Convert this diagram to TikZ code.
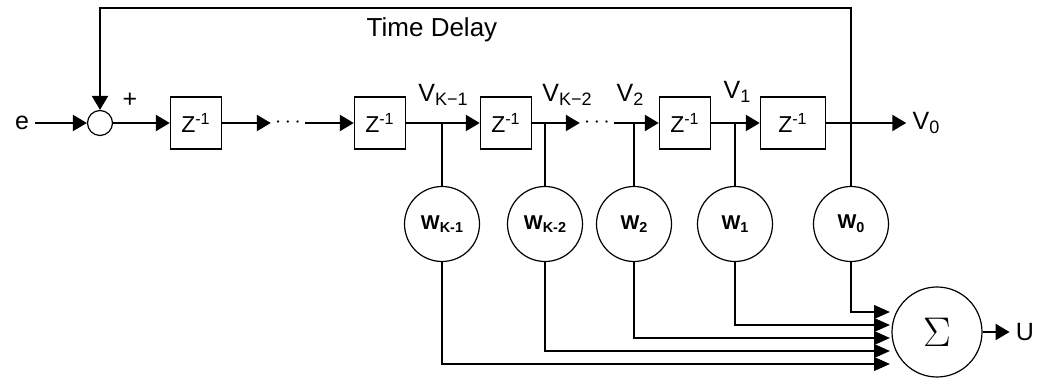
\documentclass[tikz,border=0pt]{standalone}
\usepackage{fontspec}
\setmainfont{Liberation Sans}
\usetikzlibrary{positioning,calc,arrows.meta}

\newcommand{\lo}[1]{\raisebox{-0.35ex}{\scalebox{0.72}{#1}}}

\begin{document}
\begin{tikzpicture}[
		x=0.5pt, y=-0.5pt,
		delay/.style={draw, line width=0.7pt, minimum width=25.5pt, minimum height=26pt, inner sep=0pt, font=\fontsize{11.5}{13}\selectfont},
		weight/.style={draw, circle, line width=0.6pt, minimum size=37.5pt, inner sep=0pt, font=\bfseries\fontsize{10}{12}\selectfont},
		adder/.style={draw, circle, line width=0.6pt, minimum size=12.5pt, inner sep=0pt},
		summer/.style={draw, circle, line width=0.6pt, minimum size=45pt, inner sep=0pt, font=\fontsize{21}{24}\selectfont},
		label/.style={font=\fontsize{12.5}{14}\selectfont, inner sep=3pt},
		dots/.style={font=\fontsize{11}{13}\selectfont, inner sep=2pt},
		wire/.style={line width=1.1pt},
		arr/.style={wire, -{Triangle[length=7pt, width=8pt]}},
		bus/.style={wire, -{Triangle[length=8pt, width=6.8pt]}}
		]
		\useasboundingbox (0,0) rectangle (1039,378);
		
		% -------------------------------------------------
		% Delay line
		% -------------------------------------------------
		\node[label] (e) at (22,123) {e};
		\node[adder] (add) at (100,123) {};
		\node[label] (plus) at (130,100) {+};
		\node[delay] (z1) at (196,123) {Z\textsuperscript{-1}};
		\node[dots] (dots1) at (288,123) {$\cdots$};
		\node[delay] (z2) at (380,123) {Z\textsuperscript{-1}};
		\node[delay] (z3) at (506,123) {Z\textsuperscript{-1}};
		\node[dots] (dots2) at (597,123) {$\cdots$};
		\node[delay] (z4) at (685,123) {Z\textsuperscript{-1}};
		\node[delay, minimum width=32.5pt] (z5) at (793,123) {Z\textsuperscript{-1}};
		\node[label] (lv0) at (926,123) {V\lo{0}};
		\node[label, font=\fontsize{13}{15}\selectfont] (td) at (432,30) {Time Delay};
		
		% tap labels
		\node[label] (lvk1) at (443,95) {V\lo{K−1}};
		\node[label] (lvk2) at (567,95) {V\lo{K−2}};
		\node[label] (lv2) at (630,95) {V\lo{2}};
		\node[label] (lv1) at (737,92) {V\lo{1}};
		
		% -------------------------------------------------
		% Weights and sum
		% -------------------------------------------------
		\node[weight] (wk1) at (442,224) {W\lo{K-1}};
		\node[weight] (wk2) at (545,224) {W\lo{K-2}};
		\node[weight] (w2) at (634,224) {W\lo{2}};
		\node[weight] (w1) at (735,224) {W\lo{1}};
		\node[weight] (w0) at (851,224) {W\lo{0}};
		\node[summer] (sig) at (937,332) {$\Sigma$};
		\node[label] (lu) at (1025,332) {U};
		
		\coordinate (fb) at (851,8);
		\foreach \k in {0,...,4}
		\coordinate (in\k) at (890,312+13*\k);
		
		% -------------------------------------------------
		% Connections
		% -------------------------------------------------
		\draw[arr] (e) -- (add);
		\draw[arr] (add) -- (z1);
		\draw[arr] (z1) -- (dots1);
		\draw[arr] (dots1) -- (z2);
		\draw[arr] (z2) -- (z3);
		\draw[arr] (z3) -- (dots2);
		\draw[arr] (dots2) -- (z4);
		\draw[arr] (z4) -- (z5);
		\draw[arr] (z5) -- (lv0);
		
		\foreach \w in {wk1,wk2,w2,w1}
		\draw[wire] (\w) -- (\w |- z1);
		
		% feedback
		\draw[arr] (w0) -- (fb) -| (add);
		
		% into the sum
		\foreach \w/\k in {w0/0,w1/1,w2/2,wk2/3,wk1/4}
		\draw[bus] (\w) |- (in\k);
		\draw[arr] (sig) -- (lu);
		
	\end{tikzpicture}
\end{document}
